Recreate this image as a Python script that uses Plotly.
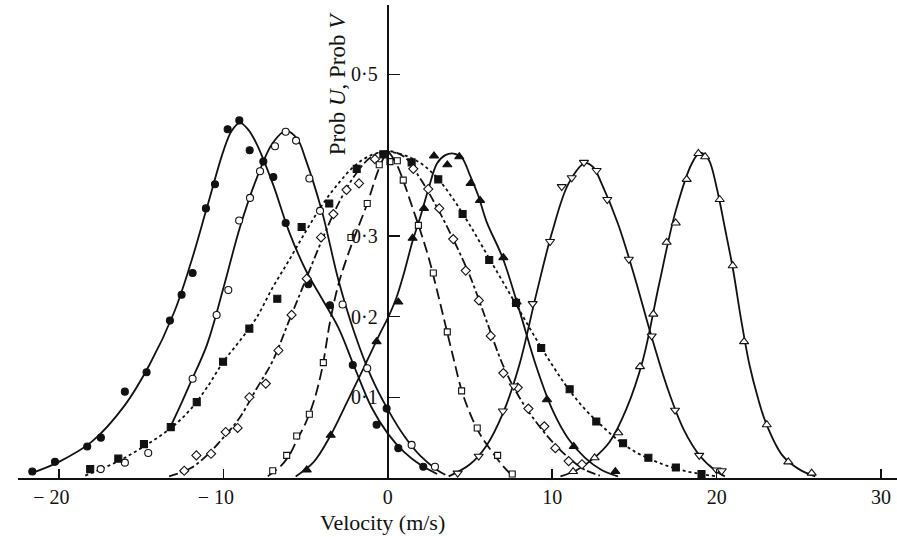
import plotly.graph_objects as go

# ---------------- data ----------------
# Series A: filled circles, solid fitted curve
a_pts_x = [-21.62, -20.24, -18.28, -17.45, -15.99, -14.67, -13.25, -12.54, -11.87, -11.06, -10.51,
           -9.74, -9.03, -8.40, -7.57, -6.96, -6.21, -4.83, -3.52, -2.13, -0.68, -0.07, 0.64, 2.16]
a_pts_y = [0.008, 0.020, 0.039, 0.050, 0.107, 0.131, 0.195, 0.227, 0.254, 0.334, 0.364,
           0.432, 0.443, 0.406, 0.392, 0.373, 0.316, 0.240, 0.214, 0.140, 0.066, 0.086, 0.037, 0.014]
a_cur_x = [-21.8, -20, -18, -16, -14.5, -13, -12, -11, -10, -9.5, -9, -8.5, -8, -7, -6, -5, -4,
           -3, -2, -1, 0, 1, 2, 3]
a_cur_y = [0.005, 0.020, 0.045, 0.090, 0.140, 0.205, 0.265, 0.335, 0.405, 0.430, 0.440, 0.432,
           0.415, 0.365, 0.305, 0.258, 0.222, 0.186, 0.136, 0.088, 0.055, 0.032, 0.016, 0.005]

# Series B: open circles, solid fitted curve
b_pts_x = [-17.46, -15.99, -14.57, -11.87, -10.41, -9.70, -9.04, -8.38, -7.77, -6.86, -6.21,
           -5.58, -4.77, -4.12, -2.75, -1.25, 1.45, 2.87]
b_pts_y = [0.011, 0.019, 0.031, 0.123, 0.202, 0.233, 0.319, 0.347, 0.380, 0.411, 0.429,
           0.418, 0.371, 0.331, 0.215, 0.136, 0.041, 0.014]
b_cur_x = [-13.3, -12.5, -12, -11, -10, -9, -8, -7, -6.2, -5.5, -5, -4, -3, -2, -1, 0, 1, 2, 3, 3.5]
b_cur_y = [0.060, 0.095, 0.118, 0.165, 0.235, 0.310, 0.370, 0.415, 0.430, 0.420, 0.395, 0.330,
           0.245, 0.178, 0.125, 0.085, 0.052, 0.027, 0.010, 0.004]

# Series C: filled squares, dotted fitted curve
c_pts_x = [-18.1, -16.39, -14.83, -13.2, -11.62, -10.02, -8.42, -6.72, -5.24, -3.56, -1.89, -0.27,
           1.45, 3.07, 4.55, 6.17, 7.80, 9.33, 11.06, 12.68, 14.31, 15.85, 17.52, 19.08]
c_pts_y = [0.011, 0.024, 0.042, 0.063, 0.094, 0.144, 0.185, 0.222, 0.311, 0.340, 0.383, 0.401,
           0.391, 0.370, 0.327, 0.270, 0.217, 0.161, 0.110, 0.070, 0.043, 0.025, 0.013, 0.005]
c_cur_x = [-18.4, -17, -16, -15, -14, -13, -12, -11, -10, -9, -8, -7, -6, -5, -4, -3, -2, -1, 0,
           1, 2, 3, 4, 5, 6, 7, 8, 9, 10, 11, 12, 13, 14, 15, 16, 17, 18, 19, 20]
c_cur_y = [0.003, 0.015, 0.025, 0.037, 0.050, 0.065, 0.085, 0.112, 0.144, 0.170, 0.198, 0.236,
           0.270, 0.305, 0.338, 0.365, 0.387, 0.400, 0.404, 0.400, 0.390, 0.372, 0.345, 0.313,
           0.278, 0.243, 0.208, 0.173, 0.140, 0.110, 0.085, 0.065, 0.047, 0.033, 0.023, 0.015,
           0.009, 0.005, 0.002]

# Series D: open diamonds, dash-dot fitted curve
d_pts_x = [-12.38, -11.64, -10.75, -9.86, -9.13, -8.42, -7.42, -6.65, -5.85, -4.93, -4.06, -3.31,
           -2.51, -1.75, -0.78, 1.55, 2.46, 3.13, 3.98, 4.74, 5.54, 6.26, 7.03, 7.90, 8.55, 9.52,
           10.19, 11.0, 11.81]
d_pts_y = [0.009, 0.028, 0.030, 0.057, 0.062, 0.100, 0.117, 0.158, 0.202, 0.247, 0.298, 0.327,
           0.357, 0.365, 0.395, 0.383, 0.358, 0.334, 0.296, 0.257, 0.220, 0.176, 0.130, 0.112,
           0.086, 0.064, 0.037, 0.021, 0.017]
d_cur_x = [-13.3, -12, -11, -10, -9, -8, -7, -6, -5, -4, -3, -2, -1, 0, 1, 2, 3, 4, 5, 6, 7, 8,
           9, 10, 11, 12, 12.9]
d_cur_y = [0.002, 0.012, 0.028, 0.050, 0.075, 0.110, 0.145, 0.195, 0.245, 0.295, 0.340, 0.375,
           0.398, 0.405, 0.398, 0.370, 0.335, 0.295, 0.250, 0.195, 0.140, 0.100, 0.070, 0.045,
           0.025, 0.010, 0.003]

# Series E: open squares, dashed fitted curve
e_pts_x = [-7.0, -6.15, -5.54, -4.77, -3.92, -2.24, -1.25, -0.52, 0.13, 0.58, 0.94, 1.86, 2.77,
           3.62, 4.49, 5.44, 6.68, 7.57]
e_pts_y = [0.009, 0.028, 0.052, 0.079, 0.143, 0.298, 0.340, 0.388, 0.392, 0.393, 0.369, 0.313,
           0.254, 0.181, 0.108, 0.062, 0.028, 0.005]
e_cur_x = [-7.3, -6.5, -6, -5.5, -5, -4.5, -4, -3.5, -3, -2.5, -2, -1.25, -0.5, 0, 0.5, 1, 1.5,
           2, 2.5, 3, 3.5, 4, 4.5, 5, 5.5, 6, 6.5, 7, 7.6]
e_cur_y = [0.002, 0.015, 0.028, 0.048, 0.068, 0.095, 0.135, 0.195, 0.240, 0.272, 0.300, 0.340,
           0.385, 0.403, 0.390, 0.365, 0.335, 0.305, 0.272, 0.232, 0.190, 0.148, 0.108, 0.080,
           0.058, 0.042, 0.028, 0.015, 0.002]

# Series F: filled triangles, solid fitted curve
f_pts_x = [-4.93, -3.47, -0.68, 0.64, 1.51, 2.20, 2.81, 3.62, 4.35, 5.04, 5.61, 7.03, 7.84,
           9.68, 11.31, 13.84]
f_pts_y = [0.010, 0.053, 0.169, 0.218, 0.297, 0.334, 0.399, 0.388, 0.398, 0.365, 0.344, 0.273,
           0.218, 0.097, 0.039, 0.008]
f_cur_x = [-5.6, -4.5, -3.5, -2.5, -1.5, -0.5, 0, 0.5, 1, 1.5, 2, 2.5, 3, 3.5, 4, 4.5, 5, 5.5, 6,
           7, 8, 9, 10, 11, 12, 13, 14]
f_cur_y = [0.002, 0.020, 0.052, 0.093, 0.135, 0.178, 0.198, 0.222, 0.255, 0.293, 0.325, 0.360,
           0.390, 0.400, 0.402, 0.397, 0.375, 0.350, 0.318, 0.272, 0.208, 0.140, 0.085, 0.048,
           0.025, 0.010, 0.002]

# Series G: open down-triangles, solid fitted curve
g_pts_x = [4.25, 5.53, 7.0, 7.66, 8.81, 9.87, 10.58, 11.19, 11.93, 12.70, 13.35, 14.66, 16.05,
           17.47, 18.94, 20.0, 20.31]
g_pts_y = [0.006, 0.027, 0.083, 0.114, 0.216, 0.293, 0.361, 0.372, 0.391, 0.381, 0.345, 0.271,
           0.176, 0.084, 0.028, 0.010, 0.009]
g_cur_x = [3.7, 5, 6, 7, 8, 9, 10, 11, 12, 12.5, 13, 14, 15, 16, 17, 18, 19, 20, 20.5]
g_cur_y = [0.002, 0.017, 0.040, 0.080, 0.140, 0.225, 0.305, 0.365, 0.390, 0.385, 0.365, 0.315,
           0.250, 0.178, 0.112, 0.060, 0.027, 0.008, 0.002]

# Series H: open up-triangles, solid fitted curve
h_pts_x = [11.27, 12.58, 14.02, 15.34, 16.15, 16.96, 17.51, 18.18, 18.89, 19.30, 20.19, 20.98,
           21.67, 23.05, 24.36, 25.78]
h_pts_y = [0.008, 0.025, 0.056, 0.138, 0.203, 0.292, 0.316, 0.370, 0.402, 0.398, 0.345, 0.263,
           0.169, 0.066, 0.020, 0.006]
h_cur_x = [10.5, 11.5, 12.5, 13.5, 14.5, 15.5, 16.5, 17.5, 18.5, 19, 19.5, 20, 20.5, 21, 21.5,
           22, 22.5, 23, 24, 25, 26]
h_cur_y = [0.002, 0.010, 0.024, 0.045, 0.085, 0.145, 0.240, 0.330, 0.390, 0.403, 0.395, 0.360,
           0.310, 0.258, 0.195, 0.140, 0.100, 0.068, 0.028, 0.011, 0.002]

x_tick_vals = [-20, -10, 0, 10, 20, 30]
# negative labels padded on the right so the digits sit under the tick, as in the print
x_tick_text = ["\u2212 20\u2007\u00a0", "\u2212 10\u2007\u00a0", "0", "10", "20", "30"]
y_tick_vals = [0.1, 0.2, 0.3, 0.5]
y_tick_text = ["0\u00b71", "0\u00b72", "0\u00b73", "0\u00b75"]

# ---------------- figure ----------------
FONT = "Liberation Serif"
BLACK = "#111111"
fig = go.Figure()

curves = [
    (a_cur_x, a_cur_y, "solid"),
    (b_cur_x, b_cur_y, "solid"),
    (c_cur_x, c_cur_y, "dot"),
    (d_cur_x, d_cur_y, "dashdot"),
    (e_cur_x, e_cur_y, "11px,5px"),
    (f_cur_x, f_cur_y, "solid"),
    (g_cur_x, g_cur_y, "solid"),
    (h_cur_x, h_cur_y, "solid"),
]
for cx, cy, dash in curves:
    fig.add_trace(go.Scatter(
        x=cx, y=cy, mode="lines", line=dict(color=BLACK, width=1.8, dash=dash, shape="spline",
                                            smoothing=1.0),
        hoverinfo="skip", showlegend=False, cliponaxis=False))

points = [
    (a_pts_x, a_pts_y, "circle", BLACK, 7),
    (b_pts_x, b_pts_y, "circle", "white", 7),
    (c_pts_x, c_pts_y, "square", BLACK, 7),
    (d_pts_x, d_pts_y, "diamond", "white", 7),
    (e_pts_x, e_pts_y, "square", "white", 6),
    (f_pts_x, f_pts_y, "triangle-up", BLACK, 8),
    (g_pts_x, g_pts_y, "triangle-down", "white", 8),
    (h_pts_x, h_pts_y, "triangle-up", "white", 8),
]
for px, py, sym, fill, size in points:
    fig.add_trace(go.Scatter(
        x=px, y=py, mode="markers",
        marker=dict(symbol=sym, size=size, color=fill, line=dict(color=BLACK, width=1.1)),
        showlegend=False, cliponaxis=False))

x_min, x_max = -22.49, 30.97
fig.update_layout(
    width=897, height=537, autosize=False,
    margin=dict(l=18, r=0, t=5, b=59, pad=0),
    paper_bgcolor="white", plot_bgcolor="white",
    font=dict(family=FONT, size=20, color=BLACK),
    xaxis=dict(range=[x_min, x_max], showgrid=False, zeroline=False, showline=True,
               linecolor=BLACK, linewidth=2, ticks="inside", ticklen=9, tickwidth=1.5,
               tickcolor=BLACK, tickvals=x_tick_vals, ticktext=x_tick_text,
               ticklabeloverflow="allow",
               tickfont=dict(family=FONT, size=20)),
    yaxis=dict(range=[0, 0.586], showgrid=False, zeroline=False, showline=True,
               linecolor=BLACK, linewidth=2, ticks="inside", ticklen=11, tickwidth=1.5,
               tickcolor=BLACK, tickvals=y_tick_vals, ticktext=y_tick_text,
               anchor="free", position=(0 - x_min) / (x_max - x_min),
               ticklabelstandoff=5,
               tickfont=dict(family=FONT, size=20)),
    annotations=[
        dict(text="Velocity (m/s)", x=-0.32, xref="x", y=0, yref="paper", yanchor="middle",
             xanchor="center", yshift=-44, showarrow=False, font=dict(family=FONT, size=22)),
        dict(text="Prob <i>U</i>, Prob <i>V</i>", x=-3.09, xref="x", y=0.489, yref="y",
             xanchor="center", yanchor="middle", textangle=-90, showarrow=False,
             font=dict(family=FONT, size=23)),
    ],
)

# remove the browser's default 8 px body margin so the figure fills the window exactly
fig.write_html(
    "out.html",
    config={"displayModeBar": False, "staticPlot": True},
    default_width="897px", default_height="537px",
    post_script="document.body.style.margin='0';document.body.style.overflow='hidden';",
)
